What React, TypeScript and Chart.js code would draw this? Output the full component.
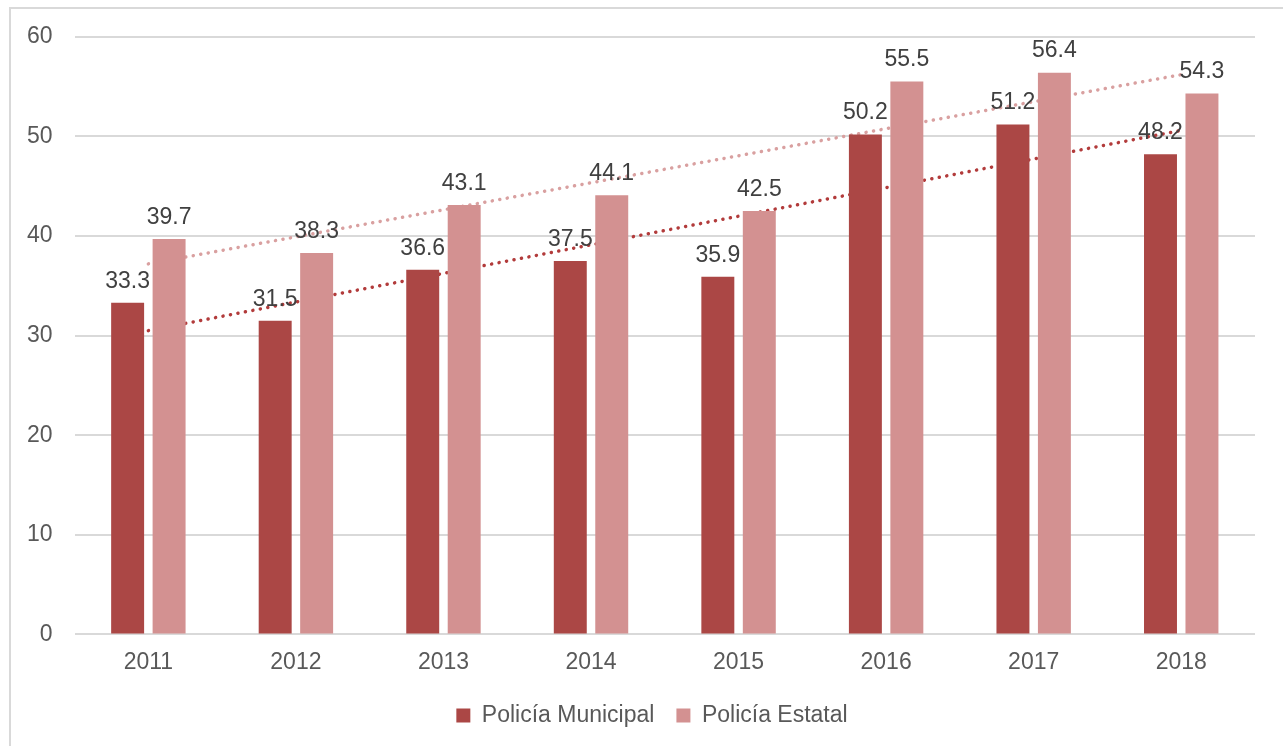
import React, { useEffect, useRef } from "react";
import { Chart, registerables } from "chart.js";
Chart.register(...registerables);

const years = ["2011", "2012", "2013", "2014", "2015", "2016", "2017", "2018"];
const municipal = [33.3, 31.5, 36.6, 37.5, 35.9, 50.2, 51.2, 48.2];
const estatal = [39.7, 38.3, 43.1, 44.1, 42.5, 55.5, 56.4, 54.3];
// trend line end points (first and last year)
const trendMunicipal = [30.5, null, null, null, null, null, null, 50.6];
const trendEstatal = [37.2, null, null, null, null, null, null, 56.2];
const yTicks = [0, 10, 20, 30, 40, 50, 60];

const FONT = "'Liberation Sans', Arial, sans-serif";
const FS = 23;

const labelPlugin = {
  id: "barLabels",
  afterLayout(chart: any) {
    if (chart.legend) {
      chart.legend.left += 22;
      chart.legend.right += 22;
    }
  },
  afterDatasetsDraw(chart: any) {
    const ctx = chart.ctx;
    ctx.save();
    ctx.font = `${FS}px ${FONT}`;
    ctx.fillStyle = "#404040";
    ctx.textAlign = "center";
    ctx.textBaseline = "bottom";
    chart.data.datasets.forEach((ds: any, i: number) => {
      if (ds.type === "line") return;
      const meta = chart.getDatasetMeta(i);
      meta.data.forEach((el: any, j: number) => {
        ctx.fillText(String(ds.data[j].toFixed(1)), el.x, el.y - 10);
      });
    });
    ctx.restore();
  },
};

export default function App() {
  const ref = useRef<HTMLCanvasElement>(null);
  useEffect(() => {
    if (!ref.current) return;
    const chart = new Chart(ref.current, {
      type: "bar",
      data: {
        labels: years,
        datasets: [
          {
            label: "Policía Municipal",
            data: municipal,
            backgroundColor: "#AB4745",
            barPercentage: 0.795,
            categoryPercentage: 0.562,
            order: 1,
          },
          {
            label: "Policía Estatal",
            data: estatal,
            backgroundColor: "#D39191",
            barPercentage: 0.795,
            categoryPercentage: 0.562,
            order: 1,
          },
          {
            type: "line",
            label: "trendE",
            data: trendEstatal as any,
            borderColor: "#D9A0A0",
            borderWidth: 3.5,
            borderDash: [0.1, 7.5],
            borderCapStyle: "round",
            pointRadius: 0,
            spanGaps: true,
            fill: false,
            order: 5,
          } as any,
          {
            type: "line",
            label: "trendM",
            data: trendMunicipal as any,
            borderColor: "#B23B3B",
            borderWidth: 3.5,
            borderDash: [0.1, 7.5],
            borderCapStyle: "round",
            pointRadius: 0,
            spanGaps: true,
            fill: false,
            order: 5,
          } as any,
        ],
      },
      options: {
        responsive: false,
        animation: false,
        layout: { padding: { left: -6, right: 28, top: 0, bottom: 9 } },
        scales: {
          x: {
            grid: { display: false },
            border: { display: false },
            ticks: { color: "#595959", font: { family: FONT, size: FS }, padding: 6 },
          },
          y: {
            min: 0,
            max: 60,
            afterBuildTicks: (axis: any) => {
              axis.ticks = yTicks.map((v) => ({ value: v }));
            },
            grid: { color: "#D9D9D9", lineWidth: 2, drawTicks: false },
            border: { display: false },
            ticks: { color: "#595959", font: { family: FONT, size: FS }, padding: 22 },
          },
        },
        plugins: {
          tooltip: { enabled: false },
          legend: {
            position: "bottom",
            labels: {
              color: "#595959",
              font: { family: FONT, size: FS },
              boxWidth: 14,
              boxHeight: 14,
              padding: 22,
              filter: (item: any) => !item.text.startsWith("trend"),
            },
          },
        },
      },
      plugins: [labelPlugin],
    });
    return () => chart.destroy();
  }, []);
  return (
    <div
      style={{
        position: "fixed",
        left: 9,
        top: 7,
        width: 1300,
        height: 760,
        borderLeft: "2px solid #D9D9D9",
        borderTop: "2px solid #D9D9D9",
        background: "#fff",
      }}
    >
      <canvas
        ref={ref}
        width={1272}
        height={745}
        style={{ display: "block", marginTop: -8, position: "relative" }}
      />
    </div>
  );
}
